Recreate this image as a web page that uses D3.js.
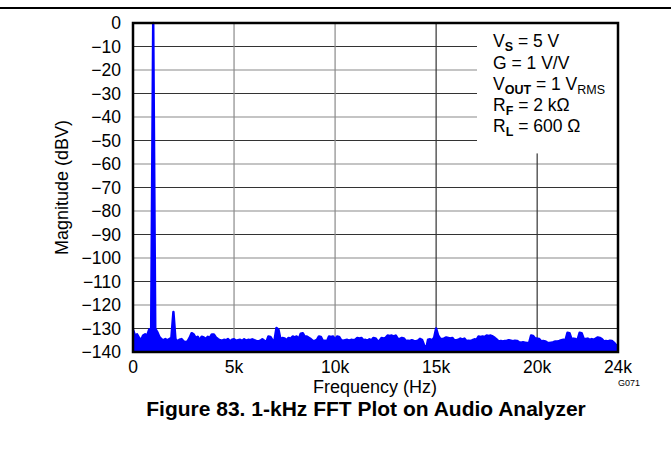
<!DOCTYPE html>
<html><head><meta charset="utf-8">
<script src="https://cdn.jsdelivr.net/npm/d3@7"></script>
<style>body{margin:0;background:#fff}svg{display:block}text{font-family:"Liberation Sans",Arial,sans-serif}</style>
</head><body><svg id="c" width="671" height="452"></svg>
<script>
const yTicks = [0,-10,-20,-30,-40,-50,-60,-70,-80,-90,-100,-110,-120,-130,-140];
const xTicks = [0,5000,10000,15000,20000,24000];
const xTickLabels = ["0","5k","10k","15k","20k","24k"];
// spectrum magnitude (dBV), one value every 100 Hz from 0 Hz to 24 kHz
const magnitude = [
-130.5,-133,-132.5,-134,-135,-133,-132.5,-133,-130.5,-130,
0,
-130,-131.5,-133.5,-134.5,-135,-134.5,-135,-134.5,-134,
-123,
-134.5,-135.5,-134.8,-134.5,-135.5,-135.8,-135.5,-134,-132,
-132.5,-134,-133.5,-135,-133.5,-133.8,-134.5,-133.5,-134,-132.5,
-132.5,-133.8,-134.5,-135,-135.2,-134.8,-135,-134.5,-135.5,-134.8,
-134.6,-135.2,-135,-134.8,-135.3,-134.6,-135.2,-134.8,-135,-134.6,
-135,-135.3,-135.5,-135.2,-134.6,-135.2,-135.8,-133.4,-133.6,-135,
-135.2,-129.8,-130.5,-134.8,-134,-134.2,-135,-134,-134.3,-133.4,
-133.8,-133.4,-134.5,-132.2,-132,-133.6,-133.4,-134,-134.5,-135.3,
-135.3,-134.8,-133.4,-133.6,-135.3,-135.2,-135.4,-133.4,-133.6,-133.4,
-134.8,-133.4,-133.6,-135,-135.2,-135,-134.8,-135.2,-134.8,-135,
-134.8,-134,-134.2,-134,-135,-134.8,-135.2,-134.6,-135,-134,
-134.2,-135.3,-135.2,-134,-134.2,-134,-133,-133.2,-133,-133.4,
-133,-134.3,-134.5,-134,-134.2,-135.3,-135.2,-135.3,-135,-135.3,
-135.4,-135.2,-134.4,-134.8,-137,-139,-134.8,-134.6,-135,-134,
-130,-133,-134.3,-134.5,-134.2,-133.8,-134,-134.2,-134,-135,
-135,-134.8,-134.3,-134.6,-134.3,-135.3,-135.2,-135.3,-135,-134.6,
-134.8,-133.4,-133.6,-133.4,-133.6,-133,-133.2,-133,-133.4,-134,
-134.7,-135.5,-135.3,-135.5,-135.3,-135.2,-135,-135.2,-135.4,-135.2,
-135.3,-135.8,-136,-135.8,-136,-136.2,-136.2,-133,-133.2,-134.3,
-134.3,-134.5,-135.5,-135.3,-135.5,-136,-136.2,-136,-135.8,-135.5,
-135.5,-135.3,-135,-134.8,-135,-131.8,-132,-134.5,-134.3,-134.5,
-134.8,-131.8,-132,-134.3,-134.5,-134.3,-134.8,-134.5,-134.8,-134.3,
-133.8,-134,-134.5,-135.5,-135.3,-135.5,-135.2,-135.3,-136,-137,
-137.2];
const frequency = magnitude.map((_, i) => i * 100);

const svg = d3.select("#c");
const L = 133, R = 618, T = 23, B = 352;
const x = d3.scaleLinear().domain([0,24000]).range([L,R]);
const y = d3.scaleLinear().domain([-140,0]).range([B,T]);

// top rule
svg.append("line").attr("x1",0).attr("x2",671).attr("y1",8).attr("y2",8).attr("stroke","#000").attr("stroke-width",2);

// gridlines
svg.append("g").selectAll("line").data(yTicks.filter(d=>d!==0&&d!==-140)).join("line")
  .attr("x1",L).attr("x2",R).attr("y1",d=>y(d)).attr("y2",d=>y(d))
  .attr("stroke",d=>(Math.abs(d)/10)%2===1?"#333":"#8a8a8a").attr("stroke-width",1.2);
svg.append("g").selectAll("line").data([5000,10000,15000,20000]).join("line")
  .attr("x1",d=>x(d)).attr("x2",d=>x(d)).attr("y1",T).attr("y2",B)
  .attr("stroke",d=>d>=15000?"#333":"#8a8a8a").attr("stroke-width",1.2);

// legend background
svg.append("rect").attr("x",477).attr("y",T).attr("width",R-477).attr("height",y(-55.5)-T).attr("fill","#fff");

// data
const area = d3.area().x((d,i)=>x(frequency[i])).y0(y(-140)).y1(d=>y(d));
svg.append("path").datum(magnitude).attr("d",area).attr("fill","#0000ff");
const line = d3.line().x((d,i)=>x(frequency[i])).y(d=>y(d));
svg.append("path").datum(magnitude).attr("d",line).attr("fill","none").attr("stroke","#0000ff").attr("stroke-width",2.5).attr("stroke-linejoin","round");

// frame
svg.append("rect").attr("x",L).attr("y",T).attr("width",R-L).attr("height",B-T).attr("fill","none").attr("stroke","#000").attr("stroke-width",2.5);

// axes labels
svg.append("g").selectAll("text").data(yTicks).join("text")
  .attr("x",121).attr("y",d=>y(d)+6).attr("text-anchor","end").attr("font-size",17.5)
  .text(d=>d===0?"0":"\u2212"+Math.abs(d));
svg.append("g").selectAll("text").data(xTicks).join("text")
  .attr("x",d=>x(d)).attr("y",373).attr("text-anchor","middle").attr("font-size",17.5)
  .text((d,i)=>xTickLabels[i]);
svg.append("text").attr("x",375).attr("y",393).attr("text-anchor","middle").attr("font-size",18).text("Frequency (Hz)");
svg.append("text").attr("transform",`translate(68,${(T+B)/2}) rotate(-90)`).attr("text-anchor","middle").attr("font-size",18).text("Magnitude (dBV)");
svg.append("text").attr("x",640).attr("y",386).attr("text-anchor","end").attr("font-size",9).text("G071");
svg.append("text").attr("x",366).attr("y",416).attr("text-anchor","middle").attr("font-size",21).attr("font-weight","bold").text("Figure 83. 1-kHz FFT Plot on Audio Analyzer");

// legend
const legend = [
  [["V",""],["S","b"],[" = 5 V",""]],
  [["G = 1 V/V",""]],
  [["V",""],["OUT","b"],[" = 1 V",""],["RMS","s"]],
  [["R",""],["F","b"],[" = 2 k\u03A9",""]],
  [["R",""],["L","b"],[" = 600 \u03A9",""]]
];
const baselines = [47,69,90,111,132];
legend.forEach((parts,i)=>{
  const t = svg.append("text").attr("x",493).attr("y",baselines[i]).attr("font-size",17.5);
  let low = false;
  parts.forEach(([s,k])=>{
    const ts = t.append("tspan").text(s);
    const sub = k==="b"||k==="s";
    if (sub) ts.attr("font-size",12.5);
    if (k==="b") ts.attr("font-weight","bold");
    ts.attr("dy", sub===low ? 0 : (sub ? 3.5 : -3.5));
    low = sub;
  });
});
</script></body></html>
